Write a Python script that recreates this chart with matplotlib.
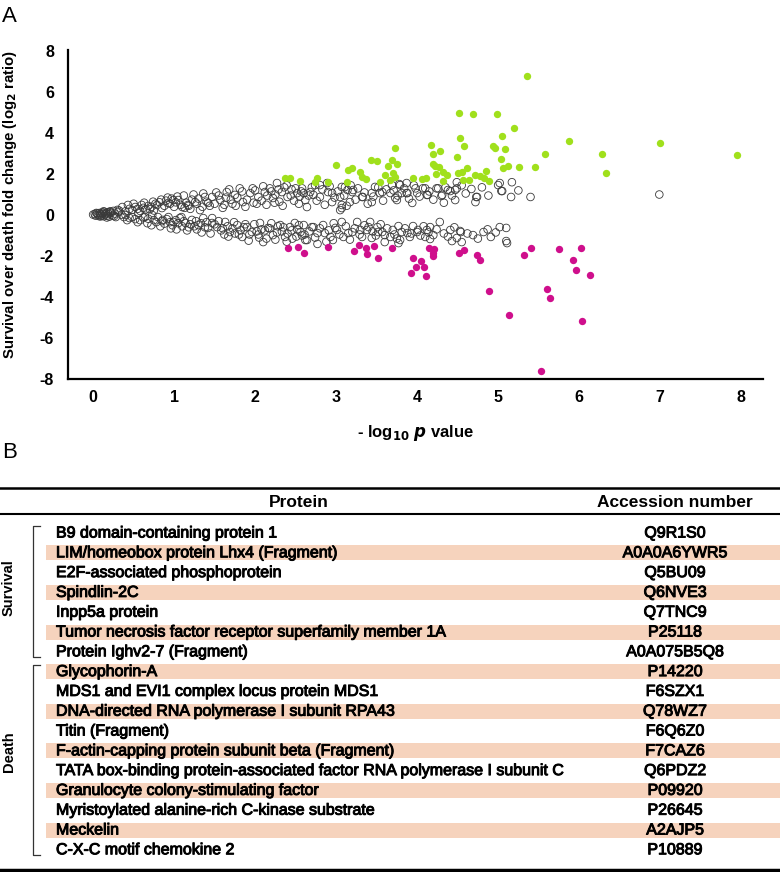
import numpy as np
import matplotlib

matplotlib.use("Agg")
import matplotlib.pyplot as plt
import matplotlib.patheffects as pe
from matplotlib.patches import Rectangle

# --- volcano plot data (-log10 p, log2 ratio) ---
survival_pts = [
    (2.37, 1.80), (2.43, 1.80), (2.56, 1.66), (2.74, 1.60), (2.77, 1.80), (2.90, 1.60),
    (3.00, 2.45), (3.15, 2.20), (3.20, 2.30), (3.29, 2.10), (3.32, 1.85), (3.37, 1.75),
    (3.14, 1.60), (3.43, 2.70), (3.50, 2.65), (3.69, 2.70), (3.73, 3.25), (3.60, 1.95),
    (3.54, 1.60), (3.67, 1.70), (3.75, 2.50), (3.64, 2.40), (3.70, 2.05), (3.73, 1.85),
    (3.95, 1.80), (4.06, 1.75), (4.11, 1.80), (4.17, 3.40), (4.19, 2.98), (4.28, 3.10),
    (4.19, 2.50), (4.22, 2.40), (4.27, 2.35), (4.23, 2.00), (4.32, 2.10), (4.37, 1.95),
    (4.32, 1.66), (4.49, 2.83), (4.53, 3.76), (4.58, 3.37), (4.52, 4.98), (4.69, 4.93),
    (4.50, 2.05), (4.56, 2.10), (4.61, 2.30), (4.57, 1.70), (4.64, 1.70), (4.72, 1.95),
    (4.78, 1.90), (4.85, 2.15), (4.82, 1.80), (4.89, 1.66), (4.99, 4.93), (4.94, 3.37),
    (4.96, 3.25), (5.05, 3.85), (5.09, 3.20), (5.20, 4.24), (5.04, 2.72), (5.06, 2.30),
    (5.12, 2.40), (5.26, 2.34), (5.36, 6.80), (5.45, 2.34), (5.58, 2.98), (5.88, 3.60),
    (6.28, 2.98), (6.33, 2.05), (7.00, 3.50), (7.95, 2.93),
]

death_pts = [
    (2.41, -1.63), (2.53, -1.57), (2.60, -1.85), (2.90, -1.57), (3.22, -1.77), (3.28, -1.48),
    (3.37, -1.60), (3.38, -1.90), (3.47, -1.50), (3.52, -2.10), (3.69, -1.60), (3.95, -2.10),
    (4.05, -2.25), (3.99, -2.53), (4.09, -2.53), (3.93, -2.83), (4.11, -2.98), (4.15, -1.60),
    (4.21, -1.65), (4.19, -1.85), (4.20, -2.00), (4.52, -1.85), (4.58, -1.70), (4.74, -1.95),
    (4.78, -2.20), (4.89, -3.70), (5.14, -4.88), (5.32, -1.95), (5.41, -1.60), (5.53, -7.60),
    (5.60, -3.60), (5.64, -4.05), (5.75, -1.65), (5.93, -2.20), (5.96, -2.68), (6.02, -1.60),
    (6.14, -2.93), (6.04, -5.17),
]

origin_pts = [
    (0.00, 0.02), (0.02, 0.05), (0.03, -0.03), (0.05, 0.08), (0.06, 0.01), (0.07, -0.05),
    (0.08, 0.10), (0.09, 0.04), (0.10, -0.02), (0.11, 0.12), (0.12, 0.06), (0.13, -0.06),
    (0.14, 0.15), (0.15, 0.02), (0.16, 0.09), (0.17, -0.04), (0.18, 0.13), (0.19, 0.05),
    (0.20, -0.08), (0.21, 0.18), (0.22, 0.10), (0.24, -0.02), (0.25, 0.20), (0.27, 0.07),
    (0.28, -0.10), (0.30, 0.25), (0.04, 0.10), (0.09, -0.07), (0.13, 0.18), (0.17, -0.12),
    (0.21, 0.14), (0.26, -0.05),
]

upper_pts = [
    (0.36, 0.39), (0.43, 0.49), (0.52, 0.39), (0.60, 0.49), (0.68, 0.44), (0.79, 0.49),
    (0.85, 0.34), (0.93, 0.59), (0.99, 0.73), (1.05, 0.73), (1.10, 0.39), (1.17, 0.49),
    (1.26, 0.63), (1.32, 0.24), (1.38, 0.88), (1.42, 0.59),
    (0.32, 0.22), (0.40, 0.18), (0.45, 0.30), (0.48, 0.25), (0.55, 0.30), (0.58, 0.20),
    (0.62, 0.35), (0.65, 0.28), (0.70, 0.28), (0.72, 0.40), (0.75, 0.22), (0.77, 0.55),
    (0.82, 0.62), (0.88, 0.45), (0.90, 0.70), (0.95, 0.55), (0.97, 0.80), (1.00, 0.40),
    (1.02, 0.62), (1.08, 0.50), (1.13, 0.35), (1.15, 0.60), (1.18, 0.45), (1.22, 0.75),
    (1.28, 0.55), (1.35, 0.40), (1.40, 0.65),
    (1.47, 0.88), (1.57, 0.73), (1.65, 1.12), (1.75, 0.98), (1.81, 1.30), (1.85, 0.63),
    (1.94, 1.07), (2.04, 0.88), (2.12, 1.12), (2.27, 1.56), (2.22, 0.83), (2.33, 1.12),
    (2.40, 0.88), (2.52, 1.07), (2.62, 0.73), (2.68, 1.12), (2.74, 1.46), (2.80, 0.88),
    (2.90, 1.12), (2.95, 0.63),
    (1.50, 0.55), (1.55, 0.95), (1.62, 0.50), (1.70, 0.75), (1.72, 0.55), (1.78, 0.85),
    (1.90, 0.75), (1.98, 0.60), (2.00, 1.20), (2.08, 0.70), (2.15, 0.95), (2.18, 1.30),
    (2.25, 1.00), (2.30, 0.65), (2.36, 1.35), (2.45, 1.25), (2.48, 0.70), (2.55, 0.90),
    (2.58, 1.30),
    (2.60, 1.07), (2.64, 0.39), (2.72, 0.98), (2.80, 1.46), (2.89, 1.56), (2.95, 1.07),
    (3.05, 0.24), (3.07, 0.49), (3.11, 1.37), (3.21, 1.22), (3.17, 0.63), (3.33, 0.88),
    (3.44, 0.63), (3.48, 1.37), (3.54, 1.07), (3.67, 1.07), (3.69, 1.46), (3.75, 0.73),
    (3.78, 1.51), (3.81, 1.07), (3.87, 1.07), (3.87, 1.56), (3.94, 0.59), (4.00, 1.07),
    (4.10, 1.30), (4.13, 0.98), (4.24, 1.30), (4.30, 0.93), (4.33, 0.60), (4.41, 1.17),
    (4.49, 1.30), (4.49, 1.60), (4.67, 1.27), (4.72, 0.63), (4.74, 0.88), (5.02, 1.56),
    (5.17, 1.60), (5.04, 1.17), (5.16, 0.88), (5.40, 0.88), (6.99, 1.00),
    (3.07, 1.37), (3.14, 1.22), (3.20, 1.12), (3.05, 0.88), (3.07, 0.34), (3.32, 0.88),
    (3.44, 1.07), (3.57, 1.12), (3.73, 0.83), (3.79, 1.46), (3.88, 1.07), (3.98, 1.30),
    (4.07, 1.30), (4.12, 0.98), (4.26, 1.30), (4.31, 0.98), (4.38, 1.22), (4.47, 1.22),
    (4.47, 0.73), (4.73, 0.88), (5.00, 1.46), (5.05, 1.17),
    (0.50, 0.55), (0.63, 0.60), (0.74, 0.65), (0.84, 0.75), (0.92, 0.85), (1.04, 0.90),
    (1.12, 0.95), (1.20, 0.30), (1.24, 1.00), (1.30, 0.80), (1.36, 1.05), (1.44, 0.45),
    (1.52, 1.10), (1.60, 0.35), (1.64, 0.85), (1.68, 1.25), (1.76, 0.45), (1.84, 1.15),
    (1.88, 0.40), (1.97, 1.30), (2.02, 0.55), (2.10, 1.40), (2.14, 0.50), (2.20, 1.15),
    (2.24, 0.60), (2.29, 1.25), (2.34, 0.45), (2.39, 1.45), (2.44, 0.95), (2.50, 1.30),
    (2.54, 0.55), (2.57, 1.15), (2.66, 0.95), (2.70, 1.35), (2.76, 0.70), (2.83, 1.25),
    (2.86, 0.50), (2.92, 1.40), (2.98, 0.85), (3.02, 1.15), (3.10, 0.95), (3.13, 0.45),
    (3.18, 1.45), (3.24, 0.75), (3.27, 1.30), (3.35, 1.10), (3.39, 0.55), (3.46, 0.90),
    (3.52, 1.35), (3.58, 0.70), (3.62, 1.25), (3.71, 1.20), (3.76, 0.95), (3.84, 1.30),
    (3.90, 0.80), (3.96, 1.45), (4.03, 0.90), (4.15, 1.15), (4.20, 0.75), (4.35, 1.35),
    (4.43, 0.95), (4.55, 1.45), (4.60, 1.05), (4.80, 1.35), (4.88, 0.95), (5.25, 1.20),
]

lower_pts = [
    (0.31, 0.15), (0.40, 0.00), (0.48, -0.10), (0.56, 0.10), (0.64, -0.10), (0.73, 0.00),
    (0.80, -0.10), (0.86, -0.24), (0.93, -0.10), (0.99, -0.34), (1.07, -0.15), (1.14, -0.39),
    (1.22, -0.24), (1.30, -0.49), (1.36, -0.15), (1.42, -0.63), (1.47, -0.39),
    (0.35, 0.02), (0.38, -0.10), (0.45, -0.15), (0.52, -0.20), (0.58, -0.25), (0.62, -0.12),
    (0.68, -0.18), (0.75, -0.25), (0.78, -0.35), (0.85, -0.30), (0.88, -0.42), (0.95, -0.35),
    (0.98, -0.50), (1.02, -0.25), (1.05, -0.40), (1.10, -0.55), (1.12, -0.30), (1.18, -0.60),
    (1.25, -0.55), (1.28, -0.70), (1.33, -0.40), (1.38, -0.60),
    (1.47, -0.15), (1.53, -0.59), (1.63, -0.34), (1.69, -0.83), (1.78, -0.49), (1.84, -1.07),
    (1.90, -0.59), (1.96, -0.83), (2.06, -0.39), (2.10, -1.32), (2.16, -0.63), (2.22, -0.98),
    (2.31, -0.49), (2.37, -1.07), (2.43, -0.59), (2.49, -0.39), (2.56, -0.83), (2.64, -1.22),
    (2.70, -0.59), (2.77, -0.88), (2.84, -0.49), (2.93, -1.07), (2.99, -0.63),
    (1.50, -0.45), (1.58, -0.75), (1.62, -0.95), (1.66, -0.55), (1.72, -0.65), (1.75, -0.90),
    (1.82, -0.75), (1.88, -0.45), (1.93, -0.95), (2.02, -0.80), (2.05, -1.10), (2.12, -0.75),
    (2.18, -0.65), (2.25, -1.20), (2.28, -0.55), (2.33, -0.80), (2.40, -0.90), (2.46, -1.15),
    (2.52, -0.70), (2.58, -1.00),
    (2.60, -0.49), (2.62, -1.22), (2.72, -0.59), (2.77, -1.41), (2.86, -0.88), (2.96, -1.22),
    (3.07, -0.34), (3.09, -1.07), (3.20, -0.83), (3.26, -0.34), (3.32, -1.07), (3.38, -0.73),
    (3.42, -0.34), (3.51, -0.59), (3.57, -0.83), (3.67, -1.07), (3.77, -0.54), (3.77, -1.37),
    (3.81, -0.83), (3.91, -1.07), (3.95, -0.54), (4.01, -0.73), (4.10, -1.07), (4.12, -0.73),
    (4.16, -0.59), (4.16, -1.17), (4.28, -0.34), (4.41, -0.73), (4.43, -1.27), (4.49, -1.12),
    (4.53, -0.78), (4.69, -0.98), (4.82, -0.83), (4.91, -1.07), (5.02, -0.59), (5.10, -0.63),
    (5.10, -1.27),
    (3.01, -0.73), (3.15, -0.88), (3.30, -0.73), (3.40, -0.59), (3.44, -1.12), (3.52, -0.83),
    (3.60, -0.98), (3.60, -1.32), (3.70, -0.73), (3.79, -1.22), (3.88, -0.88), (4.00, -0.83),
    (4.20, -0.98), (4.54, -0.83), (4.55, -1.32), (5.11, -1.37),
    (0.42, -0.25), (0.55, -0.35), (0.67, -0.40), (0.72, -0.50), (0.83, -0.55), (0.91, -0.20),
    (0.96, -0.65), (1.03, -0.70), (1.09, -0.10), (1.16, -0.75), (1.20, -0.45), (1.27, -0.30),
    (1.34, -0.85), (1.40, -0.35), (1.45, -0.90), (1.55, -0.30), (1.60, -0.65), (1.67, -1.05),
    (1.74, -0.35), (1.80, -0.95), (1.86, -0.60), (1.92, -1.25), (1.99, -0.45), (2.04, -0.95),
    (2.08, -0.70), (2.14, -1.15), (2.20, -0.40), (2.27, -0.85), (2.35, -0.60), (2.39, -1.30),
    (2.45, -0.75), (2.51, -1.05), (2.54, -0.50), (2.61, -0.95), (2.67, -0.80), (2.74, -1.10),
    (2.80, -0.65), (2.88, -1.30), (2.91, -0.75), (2.97, -0.40), (3.04, -0.95), (3.12, -0.55),
    (3.17, -1.20), (3.23, -0.65), (3.29, -0.95), (3.35, -0.50), (3.45, -0.80), (3.49, -1.00),
    (3.55, -0.45), (3.63, -0.65), (3.72, -0.95), (3.75, -1.15), (3.85, -0.65), (3.93, -0.90),
    (4.04, -1.00), (4.08, -0.55), (4.14, -0.85), (4.24, -0.70), (4.33, -0.90), (4.38, -1.05),
    (4.46, -0.60), (4.62, -0.90), (4.75, -1.15), (4.87, -0.70), (4.97, -0.85),
]

x_ticks = [0, 1, 2, 3, 4, 5, 6, 7, 8]
y_ticks = [-8, -6, -4, -2, 0, 2, 4, 6, 8]

# --- table data ---
survival_proteins = [
    "B9 domain-containing protein 1",
    "LIM/homeobox protein Lhx4 (Fragment)",
    "E2F-associated phosphoprotein",
    "Spindlin-2C",
    "Inpp5a protein",
    "Tumor necrosis factor receptor superfamily member 1A",
    "Protein Ighv2-7 (Fragment)",
]
survival_acc = ["Q9R1S0", "A0A0A6YWR5", "Q5BU09", "Q6NVE3", "Q7TNC9", "P25118", "A0A075B5Q8"]
death_proteins = [
    "Glycophorin-A",
    "MDS1 and EVI1 complex locus protein MDS1",
    "DNA-directed RNA polymerase I subunit RPA43",
    "Titin (Fragment)",
    "F-actin-capping protein subunit beta (Fragment)",
    "TATA box-binding protein-associated factor RNA polymerase I subunit C",
    "Granulocyte colony-stimulating factor",
    "Myristoylated alanine-rich C-kinase substrate",
    "Meckelin",
    "C-X-C motif chemokine 2",
]
death_acc = ["P14220", "F6SZX1", "Q78WZ7", "F6Q6Z0", "F7CAZ6", "Q6PDZ2", "P09920",
             "P26645", "A2AJP5", "P10889"]

GREEN = "#a0e01c"
MAGENTA = "#cf0f8c"
SHADE = "#f6d3bd"

plt.rcParams["font.family"] = ["Liberation Sans", "DejaVu Sans"]
plt.rcParams["axes.unicode_minus"] = False

W, H = 780, 872
fig = plt.figure(figsize=(W / 100, H / 100), dpi=100)

# page-pixel overlay for panel letters and table
tax = fig.add_axes([0, 0, 1, 1])
tax.set_xlim(0, W)
tax.set_ylim(H, 0)
tax.axis("off")

# --- panel A ---
ax = fig.add_axes([68 / W, 1 - 379 / H, (763 - 68) / W, (379 - 50) / H])
hollow = np.array(origin_pts + upper_pts + lower_pts)
ax.scatter(hollow[:, 0], hollow[:, 1], s=30, facecolors="none", edgecolors="#3a3a3a",
           linewidths=0.6, zorder=2)
surv = np.array(survival_pts)
ax.scatter(surv[:, 0], surv[:, 1], s=28, color=GREEN, linewidths=0, zorder=3)
dead = np.array(death_pts)
ax.scatter(dead[:, 0], dead[:, 1], s=28, color=MAGENTA, linewidths=0, zorder=3)

ax.set_xlim(-0.31, 8.27)
ax.set_ylim(-8, 8.05)
ax.set_xticks(x_ticks)
ax.set_yticks(y_ticks)
ax.tick_params(length=0, labelsize=11.5, pad=10)
ax.tick_params(axis="x", pad=8)
for lab in ax.get_xticklabels() + ax.get_yticklabels():
    lab.set_fontweight("bold")
for side in ("top", "right"):
    ax.spines[side].set_visible(False)
for side in ("left", "bottom"):
    ax.spines[side].set_linewidth(1.6)
ax.set_ylabel(r"Survival over death fold change (log$_\mathbf{2}$ ratio)",
              fontsize=10.8, fontweight="bold")
ax.yaxis.set_label_coords(-0.071, 0.53)
ax.set_xlabel(r"- log$_\mathbf{10}$ $\boldsymbol{p}$ value", fontsize=12, fontweight="bold",
              labelpad=13)

tax.text(2, 16, "A", fontsize=16, ha="left", va="center")
tax.text(2, 452, "B", fontsize=16, ha="left", va="center")

# --- panel B table ---
heavy = [pe.withStroke(linewidth=0.7, foreground="black")]
tax.plot([0, W], [488, 488], color="black", lw=1.8)
tax.plot([0, W], [514, 514], color="black", lw=1.5)
tax.plot([0, W], [870, 870], color="black", lw=2.5)
tax.text(299, 502, "Protein", fontsize=12.5, fontweight="bold", ha="center", va="center")
tax.text(675, 502, "Accession number", fontsize=12.5, fontweight="bold", ha="center",
         va="center")

proteins = survival_proteins + death_proteins
accs = survival_acc + death_acc
row0, pitch = 533, 19.8
for i, (name, acc) in enumerate(zip(proteins, accs)):
    yc = row0 + i * pitch
    if i % 2 == 1:
        tax.add_patch(Rectangle((46, yc - 7.5), W - 46, 15, color=SHADE, lw=0, zorder=0))
    tax.text(56, yc, name, fontsize=11.5, ha="left", va="center", zorder=2,
             path_effects=heavy)
    tax.text(675, yc, acc, fontsize=11.5, ha="center", va="center", zorder=2,
             path_effects=heavy)

# group brackets
n_surv = len(survival_proteins)
groups = [("Survival", 0, n_surv - 1, 588), ("Death", n_surv, len(proteins) - 1, 752)]
for label, first, last, ymid in groups:
    top = row0 + first * pitch - 7
    bot = row0 + last * pitch + 5
    tax.plot([40, 33, 33, 40], [top, top, bot, bot], color="#333333", lw=0.9)
    tax.text(9, ymid, label, rotation=90, fontsize=10.5, fontweight="bold",
             ha="center", va="center")

fig.savefig("out.png", dpi=100)
